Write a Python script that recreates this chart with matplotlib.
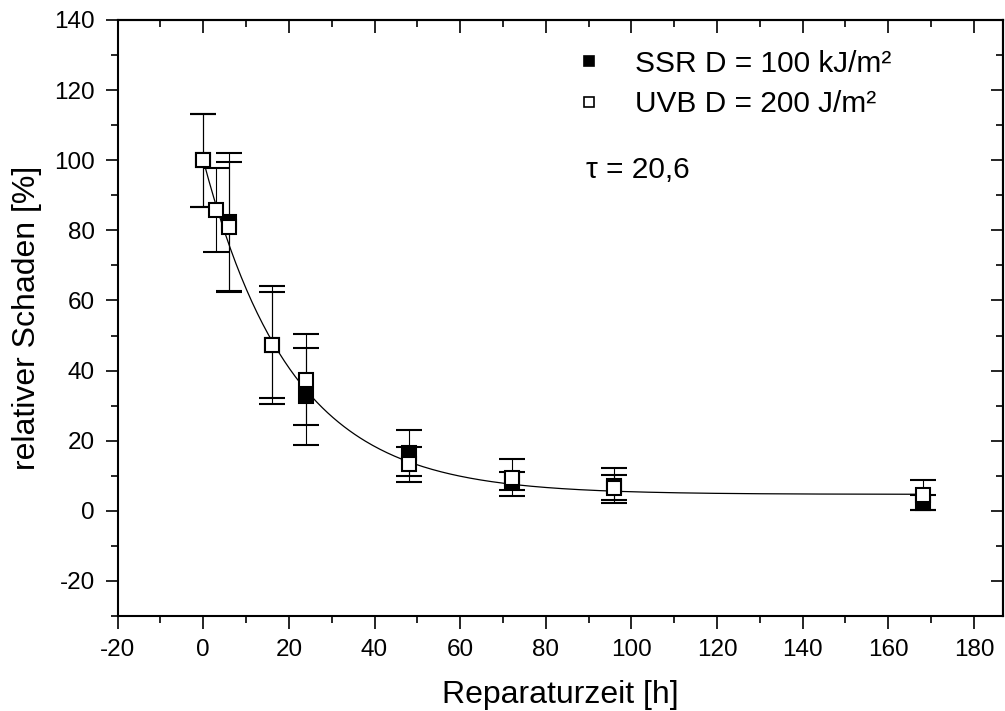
import numpy as np
import matplotlib
matplotlib.use("Agg")
import matplotlib.pyplot as plt
from matplotlib.ticker import MultipleLocator
from matplotlib.lines import Line2D

plt.rcParams['font.family'] = ['Liberation Sans', 'DejaVu Sans']
plt.rcParams['axes.unicode_minus'] = False

ssr_t = [0, 6, 16, 24, 48, 72, 96, 168]
ssr_y = [100, 82.4, 47.3, 32.7, 16.4, 8.6, 7.2, 2.3]
ssr_err = [13.2, 19.7, 16.9, 13.8, 6.6, 2.6, 4.9, 2.2]

uvb_t = [0, 3, 6, 16, 24, 48, 72, 96, 168]
uvb_y = [100, 85.7, 81.0, 47.3, 37.4, 13.3, 9.5, 6.6, 4.5]
uvb_err = [13.2, 12.0, 18.5, 15.0, 13.0, 5.0, 5.4, 3.6, 4.3]

labels = ['SSR D = 100 kJ/m²', 'UVB D = 200 J/m²']

# exponentieller Fit
tau = 20.6
fit_a = 95.3
fit_y0 = 4.7
fit_t = np.linspace(0, 168, 400)
fit_y = fit_y0 + fit_a * np.exp(-fit_t / tau)

fig = plt.figure(figsize=(10.05, 7.11), dpi=100)
ax = fig.add_axes([0.1171, 0.1336, 0.8809, 0.8383])

ax.plot(fit_t, fit_y, color='black', lw=0.9, zorder=1)

ax.errorbar(ssr_t, ssr_y, yerr=ssr_err, fmt='s', color='black', mfc='black', mec='black',
            ms=9.5, mew=1.5, ecolor='black', elinewidth=0.8, capsize=9.5, capthick=0.8,
            zorder=2)
ax.errorbar(uvb_t, uvb_y, yerr=uvb_err, fmt='s', color='black', mfc='white', mec='black',
            ms=9.5, mew=1.5, ecolor='black', elinewidth=0.8, capsize=9.5, capthick=0.8,
            zorder=3)

ax.set_xlim(-20, 186.8)
ax.set_ylim(-30, 140)
ax.xaxis.set_major_locator(MultipleLocator(20))
ax.xaxis.set_minor_locator(MultipleLocator(10))
ax.set_yticks(np.arange(-20, 141, 20))
ax.yaxis.set_minor_locator(MultipleLocator(10))

for s in ax.spines.values():
    s.set_linewidth(1.5)

ax.tick_params(which='both', direction='out', width=1.2, labelsize=17.5, pad=7.5,
               top=False, right=False)
ax.tick_params(which='major', length=9)
ax.tick_params(which='minor', length=5)

# innere Ticks oben und rechts
ax_top = ax.secondary_xaxis('top')
ax_top.xaxis.set_major_locator(MultipleLocator(20))
ax_top.xaxis.set_minor_locator(MultipleLocator(10))
ax_top.tick_params(which='both', direction='in', width=1.2, labeltop=False)
ax_top.tick_params(which='major', length=9)
ax_top.tick_params(which='minor', length=5)
ax_top.spines['top'].set_linewidth(1.5)

ax_right = ax.secondary_yaxis('right')
ax_right.yaxis.set_major_locator(MultipleLocator(20))
ax_right.yaxis.set_minor_locator(MultipleLocator(10))
ax_right.tick_params(which='both', direction='in', width=1.2, labelright=False)
ax_right.tick_params(which='major', length=9)
ax_right.tick_params(which='minor', length=5)
ax_right.spines['right'].set_linewidth(1.5)

ax.set_xlabel('Reparaturzeit [h]', fontsize=23, labelpad=14)
ax.set_ylabel('relativer Schaden [%]', fontsize=23, labelpad=9)

handles = [
    Line2D([], [], ls='none', marker='s', ms=7.5, mfc='black', mec='black', mew=1.2),
    Line2D([], [], ls='none', marker='s', ms=7.5, mfc='white', mec='black', mew=1.2),
]
ax.legend(handles, labels, loc='upper left', bbox_to_anchor=(0.502, 0.97), frameon=False,
          fontsize=21.5, handlelength=1.0, handletextpad=1.05, labelspacing=0.42,
          borderaxespad=0)

ax.text(0.529, 0.749, 'τ = 20,6', transform=ax.transAxes, fontsize=21.5, va='center', ha='left')

fig.savefig('out.png', dpi=100)
